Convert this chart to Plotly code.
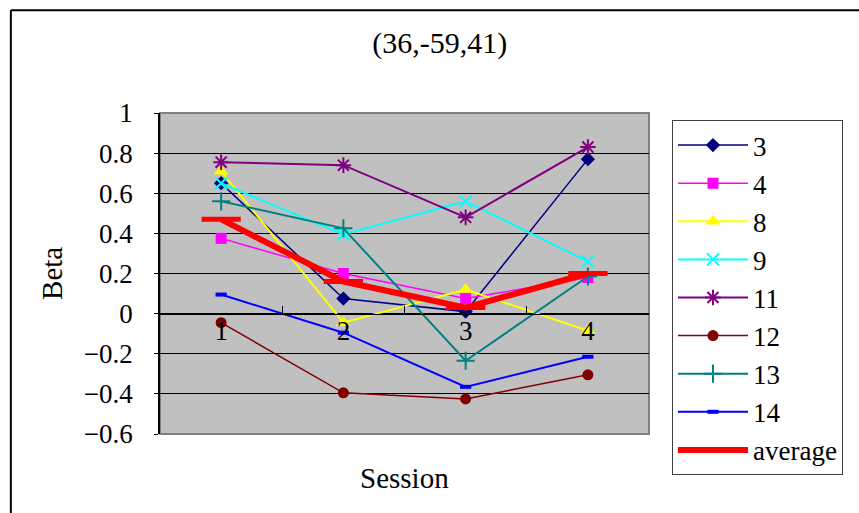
import plotly.graph_objects as go

# Sessions along the x axis
sessions = ["1", "2", "3", "4"]

# Beta estimates per subject across the four sessions
beta_3 = [0.65, 0.075, 0.01, 0.77]
beta_4 = [0.375, 0.20, 0.075, 0.18]
beta_8 = [0.71, -0.045, 0.12, -0.085]
beta_9 = [0.65, 0.395, 0.56, 0.26]
beta_11 = [0.755, 0.74, 0.48, 0.83]
beta_12 = [-0.045, -0.395, -0.425, -0.305]
beta_13 = [0.56, 0.425, -0.235, 0.185]
beta_14 = [0.095, -0.095, -0.365, -0.215]
beta_avg = [0.47, 0.16, 0.03, 0.20]

y_ticks = [1, 0.8, 0.6, 0.4, 0.2, 0, -0.2, -0.4, -0.6]

FONT = "Liberation Serif"

series = [
    ("3", beta_3, "#000080", dict(symbol="diamond", size=11), 1.5),
    ("4", beta_4, "#FF00FF", dict(symbol="square", size=11), 1.5),
    ("8", beta_8, "#FFFF00", dict(symbol="triangle-up", size=13), 2),
    ("9", beta_9, "#00FFFF", dict(symbol="x-thin-open", size=12, line=dict(width=2, color="#00FFFF")), 2),
    ("11", beta_11, "#800080", dict(symbol="asterisk-open", size=13, line=dict(width=2, color="#800080")), 2),
    ("12", beta_12, "#800000", dict(symbol="circle", size=11), 1.5),
    ("13", beta_13, "#008080", dict(symbol="cross-thin-open", size=13, line=dict(width=2, color="#008080")), 2),
    ("14", beta_14, "#0000FF", dict(symbol="line-ew-open", size=8, line=dict(width=4, color="#0000FF")), 2),
]

fig = go.Figure()
for name, vals, color, marker, lw in series:
    fig.add_trace(go.Scatter(
        x=sessions, y=vals, name=name, mode="lines+markers",
        line=dict(color=color, width=lw),
        marker=dict(color=color, **marker),
    ))

fig.add_trace(go.Scatter(
    x=sessions, y=beta_avg, name="average", mode="lines+markers",
    line=dict(color="#FF0000", width=6),
    marker=dict(symbol="line-ew-open", size=28, color="#FF0000",
                line=dict(width=5, color="#FF0000")),
))

# Plot-area frame
fig.add_shape(type="rect", xref="paper", yref="paper", x0=0, y0=0, x1=1, y1=1,
              line=dict(color="#808080", width=2), layer="below")
# Outer chart frame (left and top edges)
fig.add_shape(type="line", xref="paper", yref="paper", x0=-0.305, y0=1.32, x1=-0.305, y1=-0.3,
              line=dict(color="black", width=2))
fig.add_shape(type="line", xref="paper", yref="paper", x0=-0.305, y0=1.32, x1=1.5, y1=1.32,
              line=dict(color="black", width=2))

fig.add_annotation(text="Session", xref="paper", yref="paper", x=0.5, y=-0.137,
                   showarrow=False, font=dict(family=FONT, size=29, color="black"),
                   xanchor="center", yanchor="middle")
fig.add_annotation(text="Beta", xref="paper", yref="paper", x=-0.222, y=0.5,
                   showarrow=False, textangle=-90,
                   font=dict(family=FONT, size=29, color="black"),
                   xanchor="center", yanchor="middle")

fig.update_layout(
    width=859, height=513,
    margin=dict(l=160, r=210, t=113, b=79, autoexpand=False),
    paper_bgcolor="white",
    plot_bgcolor="#C0C0C0",
    font=dict(family=FONT, color="black"),
    title=dict(text="(36,-59,41)", x=0.512, xanchor="center", y=0.917, yanchor="middle",
               font=dict(family=FONT, size=30, color="black")),
    showlegend=True,
    legend=dict(
        x=1.047, y=0.978, xanchor="left", yanchor="top",
        bgcolor="white", bordercolor="#404040", borderwidth=1,
        font=dict(family=FONT, size=27, color="black"),
        itemwidth=70, tracegroupgap=0, maxheight=420,
    ),
    xaxis=dict(
        type="category", anchor="free", position=0.375, range=[-0.5, 3.5],
        showline=True, linecolor="black", linewidth=1,
        ticks="inside", tickson="boundaries", ticklen=8, tickcolor="black",
        showgrid=False, zeroline=False, ticklabelstandoff=-7,
        tickfont=dict(family=FONT, size=27, color="black"),
    ),
    yaxis=dict(
        range=[-0.6, 1], tickvals=y_ticks, ticktext=[f"{v:g}".replace("-", "\u2212") for v in y_ticks],
        showline=True, linecolor="black", linewidth=1.5,
        ticks="outside", ticklen=4, tickcolor="black",
        showgrid=True, gridcolor="black", gridwidth=1,
        zeroline=False, ticklabelstandoff=16,
        tickfont=dict(family=FONT, size=27, color="black"),
    ),
)

fig.write_html("out.html")
